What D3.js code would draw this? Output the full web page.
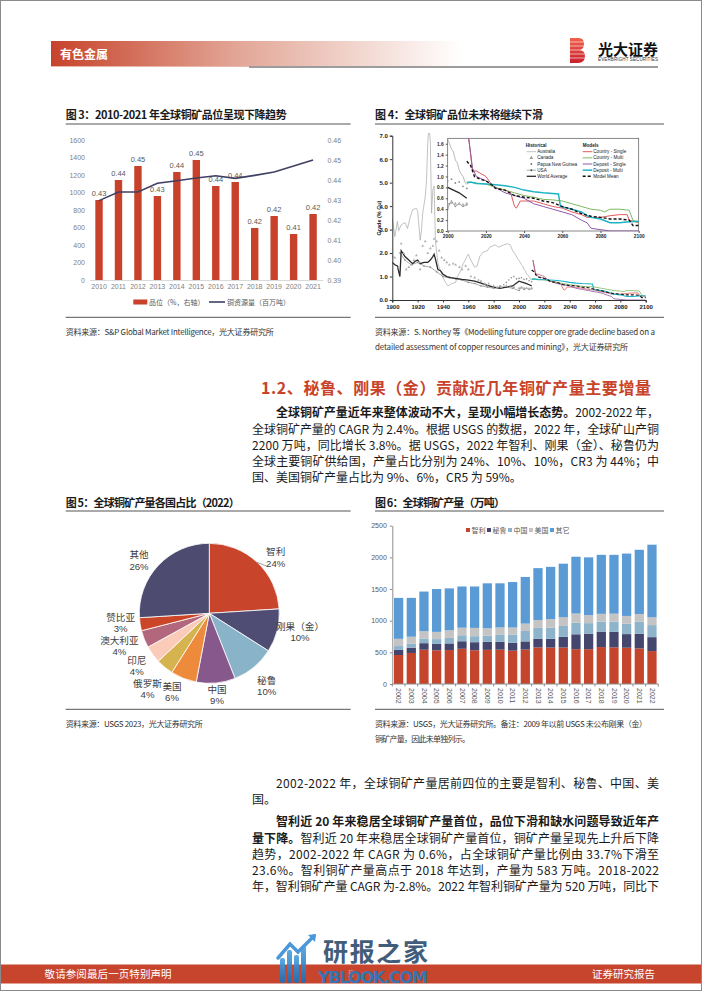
<!DOCTYPE html>
<html lang="zh">
<head>
<meta charset="utf-8">
<title>有色金属 铜矿品位与产量</title>
<script src="https://cdn.jsdelivr.net/npm/d3@7/dist/d3.min.js"></script>
<style>
  html, body { margin: 0; padding: 0; background: #fff; }
  svg { display: block; font-family: "Noto Sans CJK SC", "Noto Sans", sans-serif; }
</style>
</head>
<body>
<svg id="page" width="702" height="991"></svg>
<script>
// ---------- 图3 data ----------
const gradeYears = [2010, 2011, 2012, 2013, 2014, 2015, 2016, 2017, 2018, 2019, 2020, 2021];
const gradeValues = [0.430, 0.440, 0.447, 0.432, 0.444, 0.450, 0.437, 0.439, 0.416, 0.422, 0.413, 0.423];
const resourceValues = [907, 1006, 1006, 1105, 1135, 1166, 1192, 1162, 1196, 1234, 1303, 1371];
const leftTicks = [0, 200, 400, 600, 800, 1000, 1200, 1400, 1600];
const rightTicks = [0.39, 0.40, 0.41, 0.42, 0.43, 0.44, 0.45, 0.46];

// ---------- 图4 data ([year, grade %]) ----------
const australia = [[1900,3.5],[1902,2.7],[1904,3.35],[1905,2.95],[1907,3.2],[1910,3.3],[1912,3.05],[1914,3.5],[1916,3.85],[1919,3.9],[1920,3.8],[1922,2.55],[1923,2.95],[1924,3.7],[1926,4.4],[1927,5.1],[1928,6.7],[1929,7.4],[1930,6.8],[1931,3.7],[1932,4.7],[1933,4.85],[1934,2.55],[1936,1.55],[1938,1.25],[1940,0.95],[1942,0.75],[1944,0.6],[1947,0.7],[1950,0.75],[1951,0.95],[1954,1.25],[1956,1.55],[1959,1.85],[1960,1.95],[1962,1.7],[1965,1.4],[1967,1.45],[1969,1.85],[1972,2.05],[1975,2.1],[1977,2.25],[1981,2.35],[1984,2.25],[1988,2.35],[1991,2.4],[1993,2.35],[1995,2.1],[1997,1.95],[1999,1.75],[2000,1.68],[2001,1.6],[2002,1.5],[2003,1.45],[2004,1.3],[2005,1.25],[2006,1.12],[2007,1.05],[2008,1.0],[2009,0.9],[2010,0.85]];
const canada = [[1900,1.85],[1902,1.8],[1905,1.4],[1907,2.4],[1909,2.0],[1911,1.3],[1913,1.4],[1915,1.5],[1917,1.7],[1919,1.9],[1921,1.6],[1922,1.3],[1924,2.3],[1926,2.5],[1928,2.0],[1930,2.2],[1932,2.3],[1933,2.6],[1935,2.5],[1937,2.1],[1939,1.8],[1941,1.7],[1943,1.6],[1945,1.5],[1948,1.55],[1950,1.5],[1953,1.4],[1955,1.3],[1958,1.45],[1960,1.3],[1962,1.0],[1965,0.95],[1968,0.85],[1970,0.8],[1973,0.7],[1976,0.7],[1980,0.6],[1983,0.55],[1986,0.55],[1990,0.6],[1993,0.55],[1996,0.55],[2000,0.5],[2002,0.52],[2004,0.5],[2006,0.5],[2008,0.48],[2010,0.5]];
const papua = [[1972,0.65],[1975,0.6],[1980,0.55],[1985,0.6],[1988,0.65],[1990,0.75],[1992,0.85],[1994,0.95],[1996,1.0],[1998,0.9],[2000,0.92],[2002,0.95],[2004,0.88],[2006,0.9],[2008,0.82],[2010,0.78]];
const usa = [[1906,2.0],[1910,1.7],[1915,1.5],[1920,1.6],[1925,1.45],[1930,1.4],[1935,1.2],[1940,1.0],[1945,0.95],[1950,0.9],[1955,0.85],[1960,0.75],[1965,0.7],[1970,0.6],[1975,0.55],[1980,0.5],[1985,0.55],[1990,0.55],[1995,0.5],[2000,0.4],[2001,0.5],[2002,0.55],[2004,0.45],[2006,0.5],[2008,0.45],[2010,0.48]];
const worldAvg = [[1900,1.6],[1902,1.5],[1904,1.45],[1906,1.0],[1907,2.1],[1910,1.85],[1913,1.7],[1916,1.55],[1918,1.65],[1920,1.7],[1922,1.55],[1925,1.6],[1928,1.6],[1930,1.7],[1932,1.85],[1933,1.95],[1934,1.75],[1936,1.3],[1938,1.25],[1940,1.1],[1943,1.0],[1946,0.95],[1950,0.92],[1955,0.88],[1960,0.85],[1965,0.8],[1970,0.72],[1975,0.62],[1980,0.55],[1985,0.5],[1990,0.55],[1995,0.6],[2000,0.8],[2003,0.75],[2006,0.7],[2008,0.65],[2010,0.6]];
const countrySingle = [[2011,1.7],[2013,1.1],[2015,1.1],[2020,1.0],[2023,0.85],[2026,0.78],[2030,0.75],[2033,0.7],[2035,0.45],[2036,0.42],[2038,0.55],[2040,0.55],[2045,0.55],[2050,0.5],[2055,0.45],[2060,0.42],[2065,0.35],[2070,0.3],[2073,0.25],[2080,0.25],[2085,0.28],[2090,0.3],[2094,0.3],[2095,0.2],[2100,0.15]];
const countryMulti = [[2010,0.9],[2015,0.88],[2020,0.86],[2025,0.8],[2030,0.75],[2035,0.7],[2040,0.65],[2045,0.62],[2050,0.58],[2055,0.57],[2060,0.55],[2065,0.5],[2070,0.45],[2075,0.4],[2080,0.38],[2082,0.35],[2085,0.4],[2090,0.4],[2095,0.38],[2097,0.2],[2100,0.15]];
const depositSingle = [[2011,1.7],[2013,1.15],[2015,1.0],[2020,0.92],[2025,0.8],[2030,0.7],[2035,0.65],[2040,0.6],[2045,0.5],[2050,0.45],[2055,0.4],[2060,0.35],[2065,0.3],[2070,0.2],[2073,0.15],[2075,0.05],[2085,0.0],[2100,0.0]];
const depositMulti = [[2010,0.88],[2012,0.9],[2015,0.87],[2020,0.86],[2025,0.85],[2030,0.83],[2035,0.8],[2040,0.75],[2045,0.72],[2050,0.7],[2058,0.68],[2059,0.45],[2065,0.4],[2070,0.35],[2073,0.28],[2075,0.25],[2080,0.22],[2085,0.15],[2090,0.15],[2095,0.17],[2100,0.18]];
const modelMean = [[2010,1.28],[2012,1.2],[2014,1.0],[2017,0.95],[2020,0.92],[2023,0.85],[2025,0.78],[2030,0.75],[2035,0.65],[2040,0.62],[2045,0.6],[2050,0.55],[2055,0.52],[2060,0.45],[2065,0.4],[2070,0.32],[2075,0.27],[2080,0.25],[2085,0.22],[2090,0.22],[2095,0.2],[2097,0.1],[2100,0.1]];

// ---------- 图5 data ----------
const pieNames = ['智利', '刚果（金）', '秘鲁', '中国', '美国', '俄罗斯', '印尼', '澳大利亚', '赞比亚', '其他'];
const pieShares = [24, 10, 10, 9, 6, 4, 4, 4, 3, 26];
const pieColors = ['#C8442B', '#4F4D73', '#89B3C9', '#86588B', '#EE8A3C', '#D5B450', '#FACBB8', '#B3677D', '#CB4529', '#4D4B6F'];

// ---------- 图6 data (万吨) ----------
const prodYears = ['2002','2003','2004','2005','2006','2007','2008','2009','2010','2011','2012','2013','2014','2015','2016','2017','2018','2019','2020','2021','2022'];
const chile = [458, 490, 541, 532, 536, 556, 533, 539, 542, 526, 543, 578, 575, 576, 550, 550, 583, 579, 573, 562, 520];
const peru = [84, 84, 104, 101, 105, 119, 127, 128, 125, 124, 130, 138, 138, 170, 235, 245, 244, 246, 215, 230, 220];
const china = [57, 61, 74, 76, 87, 95, 95, 96, 116, 131, 164, 170, 176, 171, 185, 166, 159, 160, 167, 191, 190];
const usProd = [114, 112, 116, 114, 120, 119, 131, 118, 110, 111, 117, 125, 136, 138, 143, 127, 122, 126, 120, 123, 123];
const others = [647, 613, 625, 677, 662, 651, 654, 709, 697, 718, 736, 819, 825, 845, 897, 912, 932, 929, 985, 1014, 1147];
const prodKeys = ['智利', '秘鲁', '中国', '美国', '其它'];
const prodColors = ['#C5442C', '#45466D', '#8DB4CB', '#C4C4C4', '#5A9BD5'];

// ---------- helpers ----------
const svg = d3.select('#page');
const LAT = '"Liberation Sans", Arial, sans-serif';

function fit(sel, width) {
  const node = sel.node();
  const n = node.textContent.length;
  const natural = node.getComputedTextLength();
  if (n > 1) sel.attr('letter-spacing', (width - natural) / (n - 1));
  return sel;
}

function text(g, x, y, str, opts) {
  opts = opts || {};
  const t = g.append('text').attr('x', x).attr('y', y)
    .attr('font-size', opts.size || 12)
    .attr('font-weight', opts.weight || 400)
    .attr('fill', opts.fill || '#1a1a1a')
    .text(str);
  if (opts.anchor) t.attr('text-anchor', opts.anchor);
  if (opts.family) t.attr('font-family', opts.family);
  if (opts.width) fit(t, opts.width);
  return t;
}

function hline(g, x1, x2, y, color, w) {
  g.append('line').attr('x1', x1).attr('x2', x2).attr('y1', y).attr('y2', y)
    .attr('stroke', color).attr('stroke-width', w || 1);
}

// ---------- page frame / header ----------
const defs = svg.append('defs');
const hg = defs.append('linearGradient').attr('id', 'headGrad');
hg.append('stop').attr('offset', '0%').attr('stop-color', '#C7432B');
hg.append('stop').attr('offset', '45%').attr('stop-color', '#E2A595');
hg.append('stop').attr('offset', '100%').attr('stop-color', '#ffffff');

svg.append('rect').attr('x', 0.5).attr('y', 0.5).attr('width', 701).attr('height', 990)
  .attr('fill', '#fff').attr('stroke', '#8a8a8a');

const head = svg.append('g');
head.append('rect').attr('x', 51).attr('y', 41).attr('width', 410).attr('height', 25).attr('fill', 'url(#headGrad)');
hline(head, 51, 249, 66.5, '#E7B7AA', 1);
hline(head, 249, 658, 67, '#3a3a3a', 1);
text(head, 60, 58.5, '有色金属', { size: 12, weight: 700, fill: '#fff', width: 48 });

const lg = defs.append('linearGradient').attr('id', 'logoGrad').attr('x1', 0).attr('y1', 0).attr('x2', 0).attr('y2', 1);
lg.append('stop').attr('offset', '0%').attr('stop-color', '#F0624A');
lg.append('stop').attr('offset', '100%').attr('stop-color', '#C9202F');
head.append('path').attr('d', 'M570,38 H579 Q584,38 584,44 Q584,49 580,50 Q585,51 585,56 Q585,63 578,63 H570 Z')
  .attr('fill', 'url(#logoGrad)');
[42, 46, 50, 54, 58].forEach(y => hline(head, 570, 586, y, '#fff', 0.6));
text(head, 598, 54.5, '光大证券', { size: 15, weight: 700, fill: '#111', width: 60 });
text(head, 598, 61, 'EVERBRIGHT SECURITIES', { size: 4.5, fill: '#333', family: LAT, width: 60 });

// ---------- 图3 ----------
const c3 = svg.append('g');
text(c3, 65.7, 119, '图 3：2010-2021 年全球铜矿品位呈现下降趋势', { size: 11, weight: 700, width: 221 });
hline(c3, 65.7, 350.7, 124, '#555', 1);
hline(c3, 65.7, 350.7, 317.3, '#555', 1);
text(c3, 65.7, 335.3, '资料来源：S&P Global Market Intelligence，光大证券研究所', { size: 8, fill: '#333', width: 208 });

const x3 = d3.scaleBand().domain(gradeYears).range([89.3, 322.8]).paddingInner(0.62).paddingOuter(0.31);
const yL = d3.scaleLinear().domain([0, 1600]).range([280, 140]);
const yR = d3.scaleLinear().domain([0.39, 0.46]).range([280, 140]);

c3.append('g').attr('transform', 'translate(89,0)')
  .call(d3.axisLeft(yL).tickValues(leftTicks).tickFormat(d3.format('d')).tickSize(0).tickPadding(4))
  .call(g => g.select('.domain').remove())
  .selectAll('text').attr('font-family', LAT).attr('font-size', 7).attr('fill', '#7f7f7f');
c3.append('g').attr('transform', 'translate(323.5,0)')
  .call(d3.axisRight(yR).tickValues(rightTicks).tickFormat(d3.format('.2f')).tickSize(0).tickPadding(4))
  .call(g => g.select('.domain').remove())
  .selectAll('text').attr('font-family', LAT).attr('font-size', 7).attr('fill', '#7f7f7f');
c3.append('g').attr('transform', 'translate(0,280)')
  .call(d3.axisBottom(x3).tickSize(0).tickPadding(4))
  .call(g => g.select('.domain').attr('stroke', '#d9d9d9'))
  .selectAll('text').attr('font-family', LAT).attr('font-size', 7).attr('fill', '#7f7f7f');

c3.selectAll('rect.bar').data(gradeYears).join('rect').attr('class', 'bar')
  .attr('x', d => x3(d)).attr('width', x3.bandwidth())
  .attr('y', (d, i) => yR(gradeValues[i])).attr('height', (d, i) => 280 - yR(gradeValues[i]))
  .attr('fill', '#C8412A');
c3.selectAll('text.blab').data(gradeYears).join('text').attr('class', 'blab')
  .attr('x', d => x3(d) + x3.bandwidth() / 2).attr('y', (d, i) => yR(gradeValues[i]) - 4.5)
  .attr('text-anchor', 'middle').attr('font-family', LAT).attr('font-size', 7.5).attr('fill', '#595959')
  .text((d, i) => gradeValues[i].toFixed(2));
c3.append('path')
  .datum(resourceValues)
  .attr('d', d3.line().x((d, i) => x3(gradeYears[i]) + x3.bandwidth() / 2).y(d => yL(d)))
  .attr('fill', 'none').attr('stroke', '#3E3F63').attr('stroke-width', 1.6);
// legend
c3.append('rect').attr('x', 133.3).attr('y', 299.5).attr('width', 14).attr('height', 5).attr('fill', '#C8412A');
text(c3, 149, 304.5, '品位（%，右轴）', { size: 7, fill: '#595959' });
hline(c3, 209, 225, 302, '#3E3F63', 1.6);
text(c3, 227, 304.5, '铜资源量（百万吨）', { size: 7, fill: '#595959' });

// ---------- 图4 ----------
const c4 = svg.append('g');
text(c4, 375, 119, '图 4：全球铜矿品位未来将继续下滑', { size: 11, weight: 700, width: 168 });
hline(c4, 375, 664, 124, '#555', 1);
hline(c4, 375, 664, 317.3, '#555', 1);
text(c4, 375, 335.3, '资料来源：S. Northey 等《Modelling future copper ore grade decline based on a', { size: 8, fill: '#333', width: 280 });
text(c4, 375, 350.3, 'detailed assessment of copper resources and mining》，光大证券研究所', { size: 8, fill: '#333', width: 253 });

const xM = d3.scaleLinear().domain([1900, 2100]).range([392.3, 645.7]);
const yM = d3.scaleLinear().domain([0, 7]).range([300, 135.7]);
const xI = d3.scaleLinear().domain([2000, 2100]).range([447.7, 638.7]);
const yI = d3.scaleLinear().domain([0, 1.7]).range([231, 138.3]);

defs.append('clipPath').attr('id', 'clipMain').append('rect')
  .attr('x', 392.3).attr('y', 133).attr('width', 254).attr('height', 168);
defs.append('clipPath').attr('id', 'clipInset').append('rect')
  .attr('x', 447.7).attr('y', 138.3).attr('width', 191).attr('height', 93);

const series = [
  { d: australia, c: '#a8a8a8', w: 0.7, wi: 0.8 },
  { d: usa, c: '#8a8a8a', w: 0.7, wi: 0.8, mark: 'dot' },
  { d: worldAvg, c: '#2a2a2a', w: 1.3, wi: 1.3 },
  { d: countrySingle, c: '#E05A5E', w: 0.8, wi: 1.0 },
  { d: countryMulti, c: '#7DB95F', w: 0.8, wi: 1.0 },
  { d: depositSingle, c: '#8C5AA8', w: 0.8, wi: 1.0 },
  { d: depositMulti, c: '#1DB4C6', w: 1.1, wi: 1.5 },
  { d: modelMean, c: '#111', w: 1.1, wi: 1.4, dash: '3,2' }
];

function drawGrade(g, xs, ys, inset) {
  series.forEach(s => {
    g.append('path').datum(s.d)
      .attr('d', d3.line().x(d => xs(d[0])).y(d => ys(d[1])))
      .attr('fill', 'none').attr('stroke', s.c).attr('stroke-width', inset ? s.wi : s.w)
      .attr('stroke-dasharray', s.dash || null);
    if (s.mark) {
      g.selectAll(null).data(s.d).join('circle')
        .attr('cx', d => xs(d[0])).attr('cy', d => ys(d[1])).attr('r', 0.8).attr('fill', s.c);
    }
  });
  g.selectAll(null).data(canada).join('path')
    .attr('transform', d => `translate(${xs(d[0])},${ys(d[1])})`)
    .attr('d', d3.symbol(d3.symbolTriangle).size(inset ? 5 : 3.5)).attr('fill', '#b0b0b0');
  g.selectAll(null).data(papua).join('circle')
    .attr('cx', d => xs(d[0])).attr('cy', d => ys(d[1])).attr('r', inset ? 0.9 : 0.8).attr('fill', '#8a8a8a');
}

const main = c4.append('g').attr('clip-path', 'url(#clipMain)');
drawGrade(main, xM, yM, false);

c4.append('g').attr('transform', 'translate(392.3,0)')
  .call(d3.axisLeft(yM).tickValues([0,1,2,3,4,5,6,7]).tickSize(2.5).tickPadding(2))
  .call(g => g.selectAll('path,line').attr('stroke', '#333'))
  .selectAll('text').attr('font-family', LAT).attr('font-weight', 700).attr('font-size', 6).attr('fill', '#222');
c4.append('g').attr('transform', 'translate(0,300)')
  .call(d3.axisBottom(xM).tickValues(d3.range(1900, 2101, 20)).tickFormat(d3.format('d')).tickSize(2.5).tickPadding(2))
  .call(g => g.selectAll('path,line').attr('stroke', '#333'))
  .selectAll('text').attr('font-family', LAT).attr('font-weight', 700).attr('font-size', 6).attr('fill', '#222');
c4.append('text').attr('transform', 'translate(380.5,218) rotate(-90)').attr('text-anchor', 'middle')
  .attr('font-family', LAT).attr('font-weight', 700).attr('font-size', 5.5).attr('fill', '#222').text('Grade (% Cu)');

// inset
c4.append('rect').attr('x', 447.7).attr('y', 138.3).attr('width', 191).attr('height', 92.7)
  .attr('fill', '#fff').attr('stroke', '#555').attr('stroke-width', 0.7);
const ins = c4.append('g').attr('clip-path', 'url(#clipInset)');
drawGrade(ins, xI, yI, true);
c4.append('g').attr('transform', 'translate(447.7,0)')
  .call(d3.axisLeft(yI).tickValues([0,0.2,0.4,0.6,0.8,1.0,1.2,1.4,1.6]).tickFormat(d3.format('.1f')).tickSize(2).tickPadding(2))
  .call(g => g.select('.domain').remove())
  .call(g => g.selectAll('line').attr('stroke', '#555'))
  .selectAll('text').attr('font-family', LAT).attr('font-weight', 700).attr('font-size', 4.8).attr('fill', '#222');
c4.append('g').attr('transform', 'translate(0,231)')
  .call(d3.axisBottom(xI).tickValues(d3.range(2000, 2101, 20)).tickFormat(d3.format('d')).tickSize(2).tickPadding(2))
  .call(g => g.select('.domain').remove())
  .call(g => g.selectAll('line').attr('stroke', '#555'))
  .selectAll('text').attr('font-family', LAT).attr('font-weight', 700).attr('font-size', 4.8).attr('fill', '#222');

// inset legend
const leg4 = c4.append('g').attr('font-family', LAT).attr('font-size', 4.6).attr('fill', '#222');
leg4.append('text').attr('x', 525.7).attr('y', 146.5).attr('font-weight', 700).text('Historical');
leg4.append('text').attr('x', 582.7).attr('y', 146.5).attr('font-weight', 700).text('Models');
const histLeg = ['Australia', 'Canada', 'Papua New Guinea', 'USA', 'World Average'];
const modLeg = ['Country - Single', 'Country - Multi', 'Deposit - Single', 'Deposit - Multi', 'Model Mean'];
const legRowY = i => 151.7 + i * 6.15;
histLeg.forEach((name, i) => {
  const y = legRowY(i);
  leg4.append('text').attr('x', 537.3).attr('y', y + 1.6).text(name);
  if (i === 0) hline(leg4, 526.7, 536, y, '#a8a8a8', 0.7);
  if (i === 1) leg4.append('path').attr('transform', `translate(531.3,${y})`).attr('d', d3.symbol(d3.symbolTriangle).size(6)).attr('fill', '#9a9a9a');
  if (i === 2) leg4.append('circle').attr('cx', 531.3).attr('cy', y).attr('r', 1).attr('fill', '#777');
  if (i === 3) { hline(leg4, 526.7, 536, y, '#8a8a8a', 0.7); leg4.append('circle').attr('cx', 531.3).attr('cy', y).attr('r', 1).attr('fill', '#555'); }
  if (i === 4) hline(leg4, 526.7, 536, y, '#2a2a2a', 1.3);
});
modLeg.forEach((name, i) => {
  const y = legRowY(i);
  const s = series[3 + i];
  leg4.append('text').attr('x', 593.3).attr('y', y + 1.6).text(name);
  leg4.append('line').attr('x1', 582.7).attr('x2', 592.3).attr('y1', y).attr('y2', y)
    .attr('stroke', s.c).attr('stroke-width', s.wi).attr('stroke-dasharray', s.dash || null);
});

// ---------- 1.2 heading and paragraph ----------
const body = svg.append('g');
text(body, 261, 394, '1.2、秘鲁、刚果（金）贡献近几年铜矿产量主要增量', { size: 16, weight: 700, fill: '#C8432A', width: 390 });

const W = 407, X0 = 252, XI = 276;
function bodyLine(y, parts, indent, justify) {
  const t = body.append('text').attr('x', indent ? XI : X0).attr('y', y).attr('font-size', 12).attr('fill', '#1a1a1a');
  parts.forEach(p => t.append('tspan').attr('font-weight', p[1] ? 700 : 400).text(p[0]));
  if (justify) fit(t, indent ? W - (XI - X0) : W);
}
const para1 = [
  [[['全球铜矿产量近年来整体波动不大，呈现小幅增长态势。', 1], ['2002-2022 年，', 0]], 1, 1],
  [[['全球铜矿产量的 CAGR 为 2.4%。根据 USGS 的数据，2022 年，全球矿山产铜', 0]], 0, 1],
  [[['2200 万吨，同比增长 3.8%。据 USGS，2022 年智利、刚果（金）、秘鲁仍为', 0]], 0, 1],
  [[['全球主要铜矿供给国，产量占比分别为 24%、10%、10%，CR3 为 44%；中', 0]], 0, 1],
  [[['国、美国铜矿产量占比为 9%、6%，CR5 为 59%。', 0]], 0, 0]
];
para1.forEach((l, i) => bodyLine(417.2 + i * 16.3, l[0], l[1], l[2]));

const para2 = [
  [[['2002-2022 年，全球铜矿产量居前四位的主要是智利、秘鲁、中国、美', 0]], 1, 1],
  [[['国。', 0]], 0, 0]
];
para2.forEach((l, i) => bodyLine(787.8 + i * 16.6, l[0], l[1], l[2]));

const para3 = [
  [[['智利近 20 年来稳居全球铜矿产量首位，品位下滑和缺水问题导致近年产', 1]], 1, 1],
  [[['量下降。', 1], ['智利近 20 年来稳居全球铜矿产量首位，铜矿产量呈现先上升后下降', 0]], 0, 1],
  [[['趋势，2002-2022 年 CAGR 为 0.6%，占全球铜矿产量比例由 33.7%下滑至', 0]], 0, 1],
  [[['23.6%。智利铜矿产量高点于 2018 年达到，产量为 583 万吨。2018-2022', 0]], 0, 1],
  [[['年，智利铜矿产量 CAGR 为-2.8%。2022 年智利铜矿产量为 520 万吨，同比下', 0]], 0, 1]
];
para3.forEach((l, i) => bodyLine(826.2 + i * 16.3, l[0], l[1], l[2]));

// ---------- 图5 ----------
const c5 = svg.append('g');
text(c5, 65.7, 506.7, '图 5：全球铜矿产量各国占比（2022）', { size: 11, weight: 700, width: 174 });
hline(c5, 65.7, 350.7, 511, '#555', 1);
hline(c5, 65.7, 350.7, 709.3, '#555', 1);
text(c5, 65.7, 727.3, '资料来源：USGS 2023，光大证券研究所', { size: 8, fill: '#333', width: 137 });

const pcx = 209.3, pcy = 613.3, pr = 70;
const arcs = d3.pie().sort(null).value(d => d)(pieShares);
const arc = d3.arc().innerRadius(0).outerRadius(pr);
const pieG = c5.append('g').attr('transform', `translate(${pcx},${pcy})`);
pieG.selectAll('path').data(arcs).join('path')
  .attr('d', arc).attr('fill', (d, i) => pieColors[i]).attr('stroke', '#fff').attr('stroke-width', 0.8);

// label placement: outside point on the slice bisector, then small nudges like the original
const pieLabelNudge = {
  '智利': [7.5, 6.6], '刚果（金）': [7.4, -3.2], '秘鲁': [2.6, 6.2], '中国': [-0.4, -4.1], '美国': [-5.6, -1.6],
  '俄罗斯': [-7, 9.6], '印尼': [-3, 2.3], '澳大利亚': [-10, 0.4], '赞比亚': [-3.7, -4.2], '其他': [-7.6, 5.8]
};
arcs.forEach((a, i) => {
  const ang = (a.startAngle + a.endAngle) / 2;
  const nz = pieLabelNudge[pieNames[i]];
  const lx = 86 * Math.sin(ang) + nz[0];
  const ly = -86 * Math.cos(ang) + nz[1];
  pieG.append('text').attr('x', lx).attr('y', ly - 1.8).attr('text-anchor', 'middle')
    .attr('font-size', 9.6).attr('fill', '#404040').text(pieNames[i]);
  pieG.append('text').attr('x', lx).attr('y', ly + 9.3).attr('text-anchor', 'middle')
    .attr('font-family', LAT).attr('font-size', 9.6).attr('fill', '#404040').text(pieShares[i] + '%');
  if (i === 0) {
    const sx = pr * Math.sin(ang), sy = -pr * Math.cos(ang);
    pieG.append('line').attr('x1', sx).attr('y1', sy).attr('x2', sx + 11).attr('y2', sy + 4.5)
      .attr('stroke', '#595959').attr('stroke-width', 0.6);
  }
});

// ---------- 图6 ----------
const c6 = svg.append('g');
text(c6, 375, 506.7, '图 6：全球铜矿产量（万吨）', { size: 11, weight: 700, width: 130 });
hline(c6, 375, 664, 511, '#555', 1);
hline(c6, 375, 664, 709.3, '#555', 1);
text(c6, 375, 727.3, '资料来源：USGS，光大证券研究所。备注：2009 年以前 USGS 未公布刚果（金）', { size: 8, fill: '#333', width: 272 });
text(c6, 375, 742.3, '铜矿产量，因此未单独列示。', { size: 8, fill: '#333', width: 95 });

const prodRows = prodYears.map((y, i) => ({ year: y, '智利': chile[i], '秘鲁': peru[i], '中国': china[i], '美国': usProd[i], '其它': others[i] }));
const stacked = d3.stack().keys(prodKeys)(prodRows);
const x6 = d3.scaleBand().domain(prodYears).range([392.3, 658.3]).paddingInner(0.27).paddingOuter(0.135);
const y6 = d3.scaleLinear().domain([0, 2500]).range([684, 525.7]);

c6.append('g').selectAll('g').data(stacked).join('g').attr('fill', (d, i) => prodColors[i])
  .selectAll('rect').data(d => d).join('rect')
  .attr('x', d => x6(d.data.year)).attr('width', x6.bandwidth())
  .attr('y', d => y6(d[1])).attr('height', d => y6(d[0]) - y6(d[1]));

c6.append('g').attr('transform', 'translate(392.3,0)')
  .call(d3.axisLeft(y6).tickValues([0, 500, 1000, 1500, 2000, 2500]).tickFormat(d3.format('d')).tickSize(2.5).tickPadding(3).tickSizeOuter(0))
  .call(g => g.selectAll('path,line').attr('stroke', '#8c8c8c'))
  .selectAll('text').attr('font-family', LAT).attr('font-size', 7).attr('fill', '#595959');
const xAx6 = c6.append('g').attr('transform', 'translate(0,684)');
xAx6.append('line').attr('x1', 392.3).attr('x2', 658.3).attr('stroke', '#8c8c8c');
xAx6.selectAll('line.tk').data(d3.range(prodYears.length + 1)).join('line').attr('class', 'tk')
  .attr('x1', i => 392.3 + i * x6.step()).attr('x2', i => 392.3 + i * x6.step())
  .attr('y1', 0).attr('y2', 2.5).attr('stroke', '#8c8c8c');
xAx6.selectAll('text').data(prodYears).join('text')
  .attr('transform', d => `translate(${x6(d) + x6.bandwidth() / 2 - 2.4},4) rotate(90)`)
  .attr('font-family', LAT).attr('font-size', 7).attr('fill', '#595959').text(d => d);

const leg6 = c6.append('g');
prodKeys.forEach((k, i) => {
  const lx = 466 + i * 21;
  leg6.append('rect').attr('x', lx).attr('y', 528).attr('width', 4).attr('height', 4).attr('fill', prodColors[i]);
  text(leg6, lx + 5.5, 532.6, k, { size: 7, fill: '#595959' });
});

// ---------- footer ----------
const foot = svg.append('g');
foot.append('rect').attr('x', 1).attr('y', 964.5).attr('width', 700).attr('height', 19).attr('fill', '#C7452D');
text(foot, 44.6, 978, '敬请参阅最后一页特别声明', { size: 10.5, fill: '#fff', width: 127 });
text(foot, 592, 978, '证券研究报告', { size: 10.5, fill: '#fff', width: 63 });

// watermark
const wm = svg.append('g').attr('opacity', 0.92);
const wg = defs.append('linearGradient').attr('id', 'wmGrad').attr('x1', 0).attr('y1', 0).attr('x2', 0).attr('y2', 1);
wg.append('stop').attr('offset', '0%').attr('stop-color', '#4FA3E0');
wg.append('stop').attr('offset', '100%').attr('stop-color', '#1D6DB5');
[[280, 958, 5, 25], [287, 950, 5, 33], [294, 955, 5, 28], [301, 946, 5, 37]].forEach(b =>
  wm.append('rect').attr('x', b[0]).attr('y', b[1]).attr('width', b[2]).attr('height', b[3]).attr('rx', 2).attr('fill', 'url(#wmGrad)'));
wm.append('path').attr('d', 'M278,958 L290,944 L298,952 L314,936').attr('fill', 'none').attr('stroke', '#3D8FD6').attr('stroke-width', 3.5).attr('stroke-linecap', 'round');
wm.append('path').attr('d', 'M308,935 L316,934 L315,942 Z').attr('fill', '#3D8FD6');
text(wm, 323, 960.5, '研报之家', { size: 25, weight: 700, fill: '#33506F', width: 105 });
text(wm, 318, 983, 'YBLOOK.COM', { size: 16, weight: 700, fill: '#2C78BE', family: '"DejaVu Sans", sans-serif', width: 110 });
// page number sits under the watermark, as in the original page
text(foot, 351, 978, '5', { size: 10, fill: '#fff', anchor: 'middle', family: LAT }).attr('opacity', 0.35);
</script>
</body>
</html>
